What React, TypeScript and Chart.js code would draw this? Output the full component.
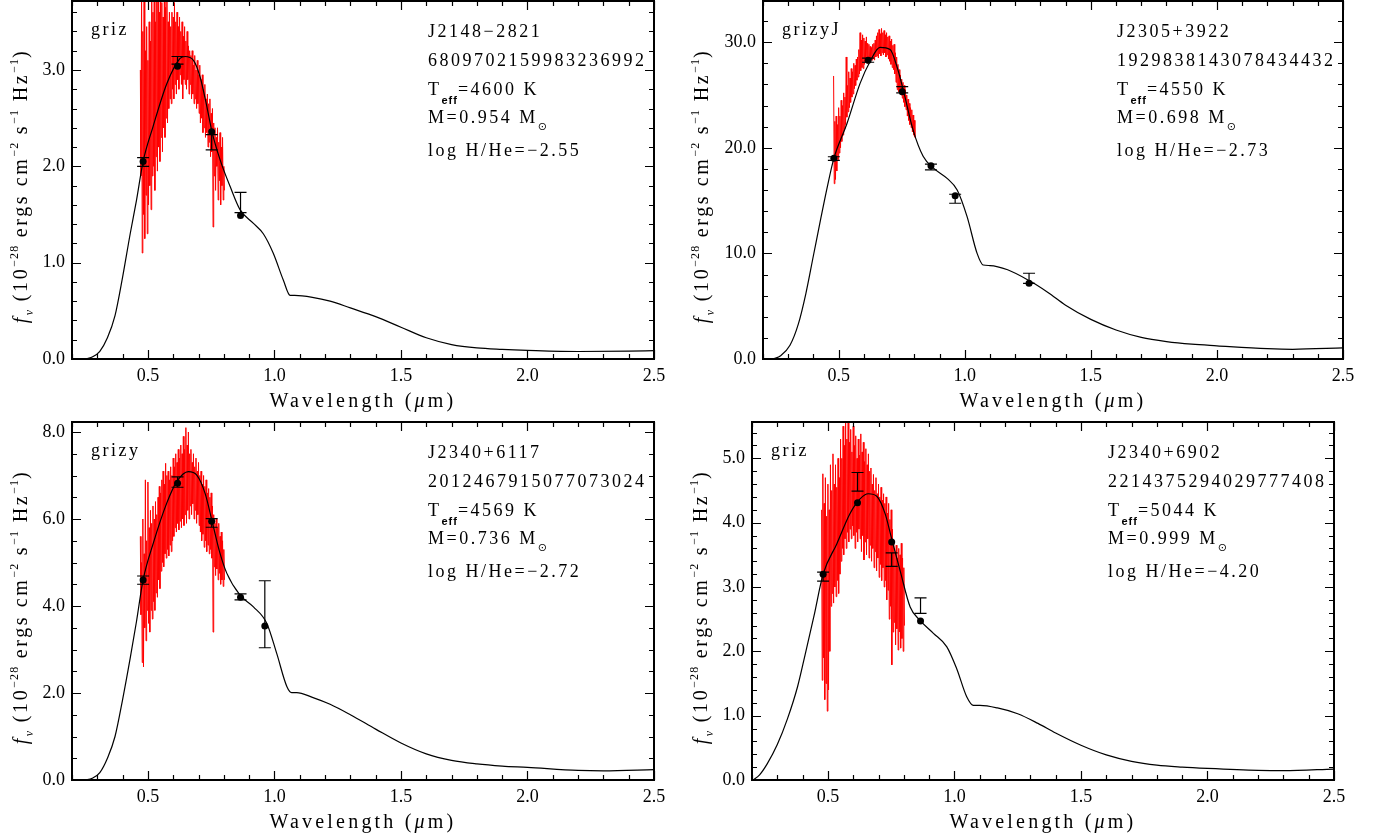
import React, { useEffect, useRef } from "react";
import { Chart, registerables } from "chart.js";

Chart.register(...registerables);

// ---------------- DATA ----------------
// shared axis ticks
const X_MAJOR = [0.5, 1.0, 1.5, 2.0, 2.5];
const SPEC_STEP = 0.005;

// ---- Panel 1: J2148-2821 ----
const P1_FILTERS = "griz";
const P1_NAME = "J2148\u22122821";
const P1_GAIA = "6809702159983236992";
const P1_TEFF = "4600";
const P1_MASS = "0.954";
const P1_HHE = "\u22122.55";
const P1_Y_MAJOR = [0, 1, 2, 3];
const P1_MODEL_X = [0.25, 0.28, 0.31, 0.34, 0.37, 0.40, 0.43, 0.455, 0.481, 0.52, 0.575, 0.627, 0.647, 0.68, 0.706, 0.733, 0.753, 0.785, 0.825, 0.864, 0.916, 0.956, 0.995, 1.035, 1.062, 1.08, 1.15, 1.22, 1.30, 1.40, 1.50, 1.60, 1.70, 1.80, 1.90, 2.00, 2.20, 2.40, 2.50];
const P1_MODEL_Y = [0.0, 0.02, 0.08, 0.22, 0.45, 0.85, 1.3, 1.65, 2.05, 2.41, 2.86, 3.12, 3.14, 3.10, 2.93, 2.62, 2.36, 2.07, 1.79, 1.55, 1.41, 1.30, 1.10, 0.82, 0.66, 0.66, 0.64, 0.60, 0.53, 0.44, 0.33, 0.22, 0.15, 0.115, 0.10, 0.09, 0.078, 0.082, 0.087];
const P1_SPEC_START = 0.470;
const P1_SPEC_HI = [3.0, 3.9, 3.4, 3.9, 3.2, 3.45, 3.1, 3.5, 3.3, 3.9, 3.6, 3.9, 3.5, 3.8, 3.9, 3.6, 3.9, 3.7, 3.55, 3.8, 3.65, 3.9, 3.5, 3.6, 3.45, 3.6, 3.55, 3.7, 3.5, 3.6, 3.45, 3.55, 3.4, 3.5, 3.35, 3.45, 3.3, 3.4, 3.25, 3.2, 3.15, 3.2, 3.05, 3.15, 3.0, 3.1, 2.95, 3.05, 2.9, 2.95, 2.8, 2.85, 2.7, 2.75, 2.65, 2.7, 2.55, 2.6, 2.45, 2.4, 2.3, 2.4, 2.25, 2.35, 2.2, 2.3, 2.0];
const P1_SPEC_LO = [1.9, 1.1, 1.5, 1.25, 1.7, 1.3, 1.6, 1.8, 1.55, 1.9, 2.0, 1.75, 2.1, 1.95, 2.2, 2.05, 2.3, 2.15, 2.4, 2.3, 2.5, 2.45, 2.6, 2.7, 2.65, 2.8, 2.7, 2.85, 2.75, 2.9, 2.8, 2.95, 2.85, 2.7, 2.9, 2.85, 2.8, 2.9, 2.75, 2.85, 2.7, 2.75, 2.65, 2.7, 2.6, 2.65, 2.55, 2.45, 2.5, 2.35, 2.4, 2.3, 2.35, 2.2, 2.25, 2.1, 2.15, 1.37, 1.9, 1.75, 2.0, 1.65, 1.85, 1.6, 1.8, 1.65, 1.75];
const P1_PHOT_X = [0.481, 0.617, 0.752, 0.866];
const P1_PHOT_MODEL = [2.05, 3.04, 2.36, 1.49];
const P1_OBS_LO = [2.00, 3.06, 2.17, 1.52];
const P1_OBS_HI = [2.09, 3.14, 2.33, 1.73];

// ---- Panel 2: J2305+3922 ----
const P2_FILTERS = "grizyJ";
const P2_NAME = "J2305+3922";
const P2_GAIA = "1929838143078434432";
const P2_TEFF = "4550";
const P2_MASS = "0.698";
const P2_HHE = "\u22122.73";
const P2_Y_MAJOR = [0, 10, 20, 30];
const P2_MODEL_X = [0.24, 0.27, 0.307, 0.34, 0.37, 0.40, 0.43, 0.455, 0.481, 0.533, 0.585, 0.625, 0.664, 0.704, 0.731, 0.756, 0.795, 0.835, 0.875, 0.93, 0.97, 1.009, 1.049, 1.073, 1.10, 1.17, 1.257, 1.33, 1.40, 1.50, 1.60, 1.70, 1.80, 1.90, 2.00, 2.20, 2.30, 2.50];
const P2_MODEL_Y = [0.0, 0.3, 1.3, 3.3, 6.2, 9.8, 13.4, 16.3, 19.0, 22.3, 26.1, 28.2, 29.5, 29.3, 27.7, 25.5, 21.7, 19.2, 18.1, 17.1, 16.0, 13.5, 10.0, 8.9, 8.85, 8.45, 7.4, 6.3, 5.1, 3.75, 2.75, 2.05, 1.65, 1.4, 1.25, 0.98, 0.92, 1.05];
const P2_SPEC_START = 0.480;
const P2_SPEC_HI = [26.8, 22.5, 23.0, 22.2, 23.8, 23.0, 24.5, 24.0, 25.2, 24.8, 28.6, 25.9, 27.2, 26.6, 27.5, 27.2, 28.0, 27.8, 28.4, 28.6, 29.3, 30.9, 30.2, 30.7, 30.4, 30.1, 30.5, 29.9, 29.8, 29.6, 29.5, 29.8, 29.9, 30.2, 30.6, 30.9, 31.2, 30.8, 31.3, 30.9, 31.1, 30.7, 30.9, 30.5, 30.6, 30.1, 30.3, 29.7, 29.8, 29.0, 28.6, 27.9, 27.4, 26.9, 26.5, 26.2, 25.9, 25.5, 25.0, 24.6, 24.2, 23.8, 23.6, 23.1, 22.6];
const P2_SPEC_LO = [16.6, 17.0, 17.8, 18.9, 19.5, 20.0, 20.6, 21.2, 21.8, 22.2, 22.9, 23.4, 23.8, 24.3, 24.8, 25.1, 25.6, 25.9, 26.4, 26.7, 27.0, 27.3, 27.6, 27.5, 27.9, 28.2, 28.0, 28.3, 28.1, 28.4, 28.3, 28.5, 28.3, 28.6, 28.7, 28.5, 28.9, 28.7, 29.0, 28.8, 29.0, 28.6, 28.8, 28.4, 28.2, 27.9, 27.6, 27.4, 27.0, 26.2, 25.5, 25.3, 25.4, 25.0, 24.7, 24.3, 23.9, 23.6, 23.0, 22.6, 22.2, 21.9, 21.5, 21.2, 21.0];
const P2_PHOT_X = [0.481, 0.617, 0.752, 0.866, 0.962, 1.255];
const P2_PHOT_MODEL = [19.0, 28.3, 25.3, 18.3, 15.45, 7.17];
const P2_OBS_LO = [18.8, 28.1, 25.2, 17.9, 14.75, 7.17];
const P2_OBS_HI = [19.15, 28.5, 25.8, 18.45, 15.6, 8.12];

// ---- Panel 3: J2340+6117 ----
const P3_FILTERS = "grizy";
const P3_NAME = "J2340+6117";
const P3_GAIA = "2012467915077073024";
const P3_TEFF = "4569";
const P3_MASS = "0.736";
const P3_HHE = "\u22122.72";
const P3_Y_MAJOR = [0, 2, 4, 6, 8];
const P3_MODEL_X = [0.251, 0.28, 0.31, 0.34, 0.37, 0.40, 0.43, 0.455, 0.481, 0.521, 0.574, 0.614, 0.66, 0.693, 0.726, 0.754, 0.785, 0.812, 0.864, 0.917, 0.97, 1.009, 1.049, 1.068, 1.088, 1.15, 1.22, 1.30, 1.40, 1.50, 1.60, 1.70, 1.80, 1.90, 2.00, 2.20, 2.30, 2.50];
const P3_MODEL_Y = [0.0, 0.04, 0.17, 0.5, 1.0, 1.85, 2.8, 3.65, 4.6, 5.44, 6.36, 6.86, 7.09, 7.01, 6.59, 5.94, 5.21, 4.75, 4.25, 3.98, 3.60, 2.91, 2.15, 2.01, 2.01, 1.90, 1.74, 1.50, 1.17, 0.85, 0.60, 0.45, 0.37, 0.32, 0.29, 0.22, 0.21, 0.24];
const P3_SPEC_START = 0.470;
const P3_SPEC_HI = [5.6, 5.0, 6.0, 5.2, 6.9, 5.5, 6.85, 5.8, 6.2, 5.9, 6.3, 6.0, 6.4, 6.1, 6.5, 6.75, 6.6, 6.9, 7.1, 6.8, 7.28, 7.0, 7.1, 6.9, 7.2, 7.0, 7.4, 7.2, 7.5, 7.3, 7.6, 7.4, 7.7, 7.5, 7.9, 7.6, 8.1, 7.7, 8.0, 7.5, 7.6, 7.3, 7.5, 7.2, 7.4, 7.1, 7.3, 7.0, 7.1, 6.8, 7.0, 6.75, 6.9, 6.6, 6.7, 6.5, 6.6, 6.3, 6.1, 5.9, 6.0, 5.8, 5.9, 5.6, 5.7, 5.5, 5.3];
const P3_SPEC_LO = [3.8, 2.7, 2.6, 3.5, 3.2, 3.9, 3.6, 3.4, 3.9, 3.7, 4.1, 3.9, 4.3, 4.2, 4.6, 4.4, 4.8, 5.0, 4.9, 5.2, 5.1, 5.3, 5.15, 5.4, 5.25, 5.5, 5.6, 5.8, 5.7, 5.9, 5.75, 5.95, 5.8, 6.0, 5.85, 6.1, 5.9, 6.2, 6.0, 6.3, 6.1, 6.35, 6.0, 6.2, 5.9, 6.1, 5.85, 5.7, 5.5, 5.65, 5.35, 5.5, 5.25, 5.4, 5.2, 5.3, 5.1, 3.4, 4.9, 4.7, 4.85, 4.6, 4.75, 4.5, 4.6, 4.45, 4.6];
const P3_PHOT_X = [0.481, 0.617, 0.752, 0.866, 0.962];
const P3_PHOT_MODEL = [4.60, 6.82, 5.95, 4.20, 3.54];
const P3_OBS_LO = [4.50, 6.73, 5.81, 4.14, 3.04];
const P3_OBS_HI = [4.69, 6.97, 6.01, 4.28, 4.58];

// ---- Panel 4: J2340+6902 ----
const P4_FILTERS = "griz";
const P4_NAME = "J2340+6902";
const P4_GAIA = "2214375294029777408";
const P4_TEFF = "5044";
const P4_MASS = "0.999";
const P4_HHE = "\u22124.20";
const P4_Y_MAJOR = [0, 1, 2, 3, 4, 5];
const P4_MODEL_X = [0.204, 0.23, 0.26, 0.30, 0.34, 0.38, 0.41, 0.445, 0.481, 0.535, 0.587, 0.627, 0.66, 0.693, 0.726, 0.752, 0.785, 0.825, 0.864, 0.917, 0.97, 1.009, 1.049, 1.075, 1.101, 1.17, 1.25, 1.33, 1.40, 1.50, 1.60, 1.70, 1.80, 1.90, 2.00, 2.20, 2.30, 2.50];
const P4_MODEL_Y = [0.0, 0.08, 0.25, 0.55, 0.95, 1.45, 1.95, 2.55, 3.2, 3.67, 4.14, 4.37, 4.45, 4.41, 4.14, 3.75, 3.26, 2.69, 2.48, 2.28, 2.07, 1.73, 1.29, 1.16, 1.16, 1.12, 1.03, 0.88, 0.73, 0.54, 0.39, 0.29, 0.23, 0.20, 0.18, 0.15, 0.145, 0.17];
const P4_SPEC_START = 0.475;
const P4_SPEC_HI = [4.2, 4.76, 4.3, 4.7, 4.1, 4.6, 4.2, 4.9, 4.5, 5.07, 4.6, 4.9, 4.55, 5.0, 4.7, 5.3, 5.0, 5.5, 5.2, 5.6, 5.3, 5.6, 5.25, 5.45, 5.1, 5.5, 5.2, 5.35, 5.0, 5.3, 5.05, 5.38, 5.1, 5.25, 4.95, 5.15, 4.9, 5.07, 4.8, 4.85, 4.6, 4.75, 4.5, 4.7, 4.45, 4.6, 4.4, 4.55, 4.35, 4.45, 4.3, 4.4, 4.15, 4.3, 4.05, 4.2, 3.9, 3.67, 3.55, 3.65, 3.45, 3.6, 3.5, 3.68, 3.45, 3.3];
const P4_SPEC_LO = [1.55, 1.9, 1.25, 1.5, 1.07, 1.4, 2.0, 2.7, 2.9, 2.75, 3.0, 2.85, 3.1, 2.9, 3.2, 3.4, 3.6, 3.5, 3.75, 3.6, 3.85, 3.7, 3.9, 3.75, 3.95, 3.8, 3.6, 3.85, 3.7, 3.9, 3.75, 3.55, 3.8, 3.42, 3.7, 3.5, 3.75, 3.45, 3.65, 3.4, 3.6, 3.3, 3.55, 3.25, 3.45, 3.15, 3.35, 3.1, 3.3, 3.0, 3.1, 2.8, 2.95, 2.5, 2.7, 1.79, 2.3, 2.45, 2.1, 2.35, 2.02, 2.3, 2.05, 2.2, 2.0, 2.4];
const P4_PHOT_X = [0.481, 0.617, 0.752, 0.866];
const P4_PHOT_MODEL = [3.20, 4.31, 3.70, 2.47];
const P4_OBS_LO = [3.09, 4.49, 3.32, 2.59];
const P4_OBS_HI = [3.23, 4.78, 3.53, 2.83];

// ---------------- LAYOUT ----------------
const FONT = '"Liberation Serif", "Times New Roman", serif';
const W = 1385;
const H = 839;
const PAD = 30; // extra canvas margin above each plot

type Seg = { t: string; k?: string };

function drawRich(ctx: any, segs: Seg[], x: number, y: number, size: number, spacing: number, align: string) {
  const items = segs.map((s) => {
    const small = s.k === "sup" || s.k === "sub" || s.k === "subit" || s.k === "eff" || s.k === "sun";
    const fs = small ? Math.round(size * 0.62) : size;
    let font = `${fs}px ${FONT}`;
    if (s.k === "eff") font = `bold ${fs}px "Liberation Sans", Arial, sans-serif`;
    else if (s.k === "it" || s.k === "subit") font = `italic ${fs}px ${FONT}`;
    else if (s.k === "sun") font = `${fs}px "DejaVu Sans", sans-serif`;
    let dy = 0;
    if (s.k === "sup") dy = -size * 0.45;
    if (s.k === "sub" || s.k === "subit") dy = size * 0.28;
    if (s.k === "eff") dy = size * 0.5;
    if (s.k === "sun") dy = size * 0.38;
    const sp = small ? spacing * 0.4 : spacing;
    ctx.font = font;
    ctx.letterSpacing = sp + "px";
    const w = ctx.measureText(s.t).width;
    return { t: s.t, font, dy, sp, w };
  });
  const total = items.reduce((a, b) => a + b.w, 0);
  let cx = align === "center" ? x - total / 2 : x;
  ctx.textAlign = "left";
  ctx.textBaseline = "alphabetic";
  for (const it of items) {
    ctx.font = it.font;
    ctx.letterSpacing = it.sp + "px";
    ctx.fillText(it.t, cx, y + it.dy);
    cx += it.w;
  }
  ctx.letterSpacing = "0px";
}

const decorPlugin = {
  id: "decor",
  afterDatasetsDraw(chart: any, _args: any, opts: any) {
    const p = opts.panel;
    if (!p) return;
    const ctx = chart.ctx;
    const xs = chart.scales.x;
    const ys = chart.scales.y;
    const { left, right, top, bottom } = chart.chartArea;
    ctx.save();
    ctx.strokeStyle = "#000";
    ctx.fillStyle = "#000";
    // error bars
    ctx.lineWidth = 1.2;
    p.photX.forEach((wx: number, i: number) => {
      const px = xs.getPixelForValue(wx);
      const y1 = ys.getPixelForValue(p.obsLo[i]);
      const y2 = ys.getPixelForValue(p.obsHi[i]);
      ctx.beginPath();
      ctx.moveTo(px, y1);
      ctx.lineTo(px, y2);
      ctx.moveTo(px - 6, y1);
      ctx.lineTo(px + 6, y1);
      ctx.moveTo(px - 6, y2);
      ctx.lineTo(px + 6, y2);
      ctx.stroke();
    });
    // frame
    ctx.lineWidth = 2;
    ctx.strokeRect(left, top, right - left, bottom - top);
    // ticks
    ctx.lineWidth = 1.2;
    ctx.beginPath();
    const xMin = xs.min, xMax = xs.max;
    for (let k = 0; ; k++) {
      const v = xMin + k * 0.1;
      if (v > xMax + 1e-6) break;
      const major = X_MAJOR.some((m) => Math.abs(m - v) < 1e-6);
      const len = major ? 9 : 5;
      const px = Math.round(xs.getPixelForValue(v)) + 0.5;
      ctx.moveTo(px, bottom);
      ctx.lineTo(px, bottom - len);
      ctx.moveTo(px, top);
      ctx.lineTo(px, top + len);
    }
    for (let k = 0; ; k++) {
      const v = k * p.yMinor;
      if (v > ys.max + 1e-6) break;
      const major = p.yMajor.some((m: number) => Math.abs(m - v) < 1e-6);
      const len = major ? 9 : 5;
      const py = Math.round(ys.getPixelForValue(v)) + 0.5;
      ctx.moveTo(left, py);
      ctx.lineTo(left + len, py);
      ctx.moveTo(right, py);
      ctx.lineTo(right - len, py);
    }
    ctx.stroke();

    // filter label
    drawRich(ctx, [{ t: p.filters }], left + 19, top + 34, 18, 2.5, "left");
    // annotation block
    const ax = right - 226;
    drawRich(ctx, [{ t: p.name }], ax, top + 36, 18, 2.5, "left");
    drawRich(ctx, [{ t: p.gaia }], ax, top + 65, 18, 2.5, "left");
    drawRich(ctx, [{ t: "T" }, { t: "eff", k: "eff" }, { t: "=" + p.teff + " K" }], ax, top + 94, 18, 2.5, "left");
    drawRich(ctx, [{ t: "M=" + p.mass + " M" }, { t: "\u2299", k: "sun" }], ax, top + 122, 18, 2.5, "left");
    drawRich(ctx, [{ t: "log H/He=" + p.hhe }], ax, top + 155, 18, 2.5, "left");

    // x title
    drawRich(ctx, [{ t: "Wavelength (" }, { t: "\u03bc", k: "it" }, { t: "m)" }], (left + right) / 2, bottom + 48, 20, 3.2, "center");
    // y title (rotated)
    ctx.save();
    ctx.translate(left - p.yTitleOff, (top + bottom) / 2 + 6);
    ctx.rotate(-Math.PI / 2);
    drawRich(
      ctx,
      [
        { t: "f", k: "it" },
        { t: "\u03bd", k: "subit" },
        { t: " (10" },
        { t: "\u221228", k: "sup" },
        { t: " ergs cm" },
        { t: "\u22122", k: "sup" },
        { t: " s" },
        { t: "\u22121", k: "sup" },
        { t: " Hz" },
        { t: "\u22121", k: "sup" },
        { t: ")" },
      ],
      0,
      0,
      20,
      2.6,
      "center"
    );
    ctx.restore();
    ctx.restore();
  },
};

function buildPanel(d: any) {
  const spec: any[] = [];
  d.specHi.forEach((hi: number, i: number) => {
    const wx = d.specStart + i * SPEC_STEP;
    spec.push({ x: wx, y: hi });
    spec.push({ x: wx + SPEC_STEP / 2, y: d.specLo[i] });
  });
  return {
    ...d,
    specPts: spec,
    modelPts: d.modelX.map((x: number, i: number) => ({ x, y: d.modelY[i] })),
    photPts: d.photX.map((x: number, i: number) => ({ x, y: d.photModel[i] })),
  };
}

const PANELS = [
  buildPanel({
    // placement
    plotL: 72, plotR: 654, plotT: 1, plotB: 359, canL: 0, canR: 690, canB: 420, ymax: 3.716, yMinor: 0.2, yTitleOff: 45,
    filters: P1_FILTERS, name: P1_NAME, gaia: P1_GAIA, teff: P1_TEFF, mass: P1_MASS, hhe: P1_HHE,
    yMajor: P1_Y_MAJOR, modelX: P1_MODEL_X, modelY: P1_MODEL_Y, specStart: P1_SPEC_START, specHi: P1_SPEC_HI, specLo: P1_SPEC_LO,
    photX: P1_PHOT_X, photModel: P1_PHOT_MODEL, obsLo: P1_OBS_LO, obsHi: P1_OBS_HI,
  }),
  buildPanel({
    plotL: 763, plotR: 1343, plotT: 1, plotB: 359, canL: 690, canR: 1385, canB: 420, ymax: 33.9, yMinor: 2, yTitleOff: 55,
    filters: P2_FILTERS, name: P2_NAME, gaia: P2_GAIA, teff: P2_TEFF, mass: P2_MASS, hhe: P2_HHE,
    yMajor: P2_Y_MAJOR, modelX: P2_MODEL_X, modelY: P2_MODEL_Y, specStart: P2_SPEC_START, specHi: P2_SPEC_HI, specLo: P2_SPEC_LO,
    photX: P2_PHOT_X, photModel: P2_PHOT_MODEL, obsLo: P2_OBS_LO, obsHi: P2_OBS_HI,
  }),
  buildPanel({
    plotL: 72, plotR: 654, plotT: 422, plotB: 780, canL: 0, canR: 690, canB: 839, ymax: 8.23, yMinor: 0.5, yTitleOff: 45,
    filters: P3_FILTERS, name: P3_NAME, gaia: P3_GAIA, teff: P3_TEFF, mass: P3_MASS, hhe: P3_HHE,
    yMajor: P3_Y_MAJOR, modelX: P3_MODEL_X, modelY: P3_MODEL_Y, specStart: P3_SPEC_START, specHi: P3_SPEC_HI, specLo: P3_SPEC_LO,
    photX: P3_PHOT_X, photModel: P3_PHOT_MODEL, obsLo: P3_OBS_LO, obsHi: P3_OBS_HI,
  }),
  buildPanel({
    plotL: 752, plotR: 1334, plotT: 422, plotB: 780, canL: 690, canR: 1385, canB: 839, ymax: 5.565, yMinor: 0.2, yTitleOff: 45,
    filters: P4_FILTERS, name: P4_NAME, gaia: P4_GAIA, teff: P4_TEFF, mass: P4_MASS, hhe: P4_HHE,
    yMajor: P4_Y_MAJOR, modelX: P4_MODEL_X, modelY: P4_MODEL_Y, specStart: P4_SPEC_START, specHi: P4_SPEC_HI, specLo: P4_SPEC_LO,
    photX: P4_PHOT_X, photModel: P4_PHOT_MODEL, obsLo: P4_OBS_LO, obsHi: P4_OBS_HI,
  }),
];

function Panel({ p }: { p: any }) {
  const ref = useRef<HTMLCanvasElement | null>(null);
  const canT = p.plotT - PAD;
  const cw = p.canR - p.canL;
  const ch = p.canB - canT;
  useEffect(() => {
    if (!ref.current) return;
    const tickFont = { family: FONT, size: 18 };
    const chart = new Chart(ref.current, {
      type: "line",
      data: {
        datasets: [
          {
            label: "photometry",
            data: p.photPts,
            showLine: false,
            pointRadius: 3.5,
            pointBackgroundColor: "#000",
            pointBorderWidth: 0,
            order: 0,
          } as any,
          {
            label: "model",
            data: p.modelPts,
            borderColor: "#000",
            borderWidth: 1.2,
            pointRadius: 0,
            cubicInterpolationMode: "monotone",
            order: 1,
          } as any,
          {
            label: "spectrum",
            data: p.specPts,
            borderColor: "#ff0000",
            borderWidth: 1,
            pointRadius: 0,
            tension: 0,
            order: 2,
          } as any,
        ],
      },
      options: {
        animation: false,
        responsive: false,
        maintainAspectRatio: false,
        events: [],
        layout: { padding: { top: PAD, right: p.canR - p.plotR, left: 0, bottom: 0 } },
        plugins: {
          legend: { display: false },
          tooltip: { enabled: false },
          decor: { panel: p },
        } as any,
        scales: {
          x: {
            type: "linear",
            min: 0.2,
            max: 2.5,
            grid: { display: false, drawTicks: false },
            border: { display: false },
            afterBuildTicks: (s: any) => {
              s.ticks = X_MAJOR.map((v) => ({ value: v }));
            },
            afterFit: (s: any) => {
              s.height = p.canB - p.plotB;
            },
            ticks: {
              font: tickFont,
              color: "#000",
              padding: 6,
              maxRotation: 0,
              autoSkip: false,
              callback: (v: any) => Number(v).toFixed(1),
            },
          },
          y: {
            type: "linear",
            min: 0,
            max: p.ymax,
            grid: { display: false, drawTicks: false },
            border: { display: false },
            afterBuildTicks: (s: any) => {
              s.ticks = p.yMajor.map((v: number) => ({ value: v }));
            },
            afterFit: (s: any) => {
              s.width = p.plotL - p.canL;
            },
            ticks: {
              font: tickFont,
              color: "#000",
              padding: 7,
              autoSkip: false,
              callback: (v: any) => Number(v).toFixed(1),
            },
          },
        },
      } as any,
      plugins: [decorPlugin],
    });
    return () => chart.destroy();
  }, [p]);
  return (
    <canvas
      ref={ref}
      width={cw}
      height={ch}
      style={{ position: "absolute", left: p.canL, top: canT, width: cw, height: ch }}
    />
  );
}

export default function App() {
  return (
    <div
      style={{
        position: "absolute",
        left: 0,
        top: 0,
        width: W,
        height: H,
        overflow: "hidden",
        background: "#fff",
      }}
    >
      {PANELS.map((p, i) => (
        <Panel key={i} p={p} />
      ))}
    </div>
  );
}
